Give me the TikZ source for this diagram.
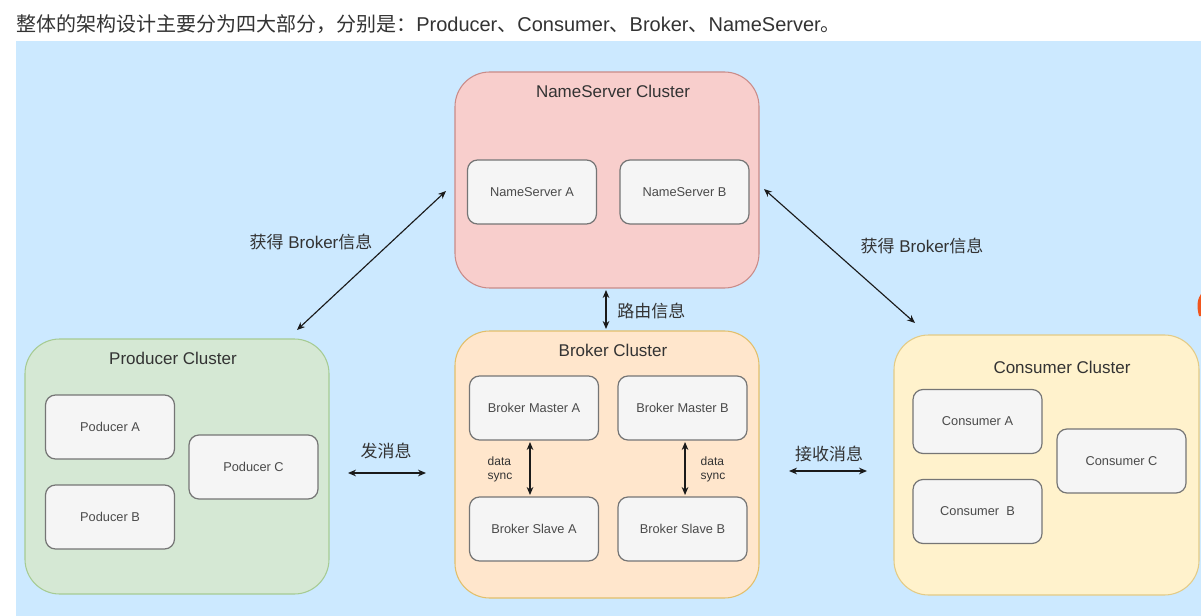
\documentclass[tikz,border=0pt]{standalone}
\usepackage{fontspec}
\setmainfont{Liberation Sans}
\newfontfamily\cjk{Noto Sans CJK SC}
\usetikzlibrary{arrows.meta}
\definecolor{bgblue}{RGB}{204,233,255}
\definecolor{nsfill}{HTML}{F8CECC}
\definecolor{nsline}{HTML}{C98B88}
\definecolor{brfill}{HTML}{FFE6CC}
\definecolor{brline}{HTML}{E2BF6A}
\definecolor{prfill}{HTML}{D5E8D4}
\definecolor{prline}{HTML}{A6CB93}
\definecolor{cofill}{HTML}{FFF2CC}
\definecolor{coline}{HTML}{E3CB86}
\definecolor{boxfill}{HTML}{F5F5F5}
\definecolor{boxline}{HTML}{757575}
\definecolor{boxtext}{HTML}{4A4A4A}
\definecolor{titletext}{HTML}{333333}
\definecolor{arrowc}{HTML}{1A1A1A}
\definecolor{fragorange}{HTML}{F0561E}
\tikzset{
  cluster/.style={rounded corners=26pt, line width=0.8pt, inner sep=0pt, outer sep=0pt},
  box/.style={draw=boxline, fill=boxfill, rounded corners=7.5pt, line width=0.9pt,
    minimum width=96.75pt, minimum height=48pt, inner sep=0pt, outer sep=0pt,
    font=\fontsize{9.6}{11}\selectfont, text=boxtext},
  ctitle/.style={font=\fontsize{12.75}{15}\selectfont, text=titletext, inner sep=0pt},
  lbl/.style={font=\fontsize{12.75}{15}\selectfont, text=titletext, inner sep=0pt},
  small/.style={font=\fontsize{9}{10.5}\selectfont, text=titletext, inner sep=0pt, align=left},
  arr/.style={draw=arrowc, line width=0.85pt, {Stealth[length=6pt,width=5pt]}-{Stealth[length=6pt,width=5pt]}}
}
\begin{document}
\begin{tikzpicture}[x=0.75pt,y=-0.75pt]
\useasboundingbox (0,0) rectangle (1201,616);
\fill[white] (0,0) rectangle (1201,616);
\fill[bgblue] (16,41) rectangle (1201,616);
\node[anchor=west, inner sep=0pt, text=titletext, font=\fontsize{15}{18}\selectfont] (head) at (16,24)
  {{\cjk 整体的架构设计主要分为四大部分，分别是：}Producer{\cjk 、}Consumer{\cjk 、}Broker{\cjk 、}NameServer{\cjk 。}};

% NameServer cluster
\node[cluster, draw=nsline, fill=nsfill, minimum width=228pt, minimum height=162pt] (ns) at (607,180) {};
\node[ctitle] (nsT) at (613,91) {NameServer Cluster};
\node[box] (nsa) at (532,192) {NameServer A};
\node[box] (nsb) at (684.5,192) {NameServer B};

% Broker cluster
\node[cluster, draw=brline, fill=brfill, minimum width=228pt, minimum height=200.25pt] (br) at (607,464.5) {};
\node[ctitle] (brT) at (613,350) {Broker Cluster};
\node[box] (bma) at (534,408) {Broker Master A};
\node[box] (bmb) at (682.5,408) {Broker Master B};
\node[box] (bsa) at (534,529) {Broker Slave A};
\node[box] (bsb) at (682.5,529) {Broker Slave B};
\draw[arr, shorten <=1.5pt, shorten >=1.5pt] ([xshift=-3pt]bma.south) -- ([xshift=-3pt]bsa.north);
\draw[arr, shorten <=1.5pt, shorten >=1.5pt] ([xshift=1.9pt]bmb.south) -- ([xshift=1.9pt]bsb.north);
\node[small] (dsa) at (500,469) {data\\sync};
\node[small] (dsb) at (713,469) {data\\sync};

% Producer cluster
\node[cluster, draw=prline, fill=prfill, minimum width=228pt, minimum height=191.25pt] (pr) at (177,466.5) {};
\node[ctitle] (prT) at (173,358) {Producer Cluster};
\node[box] (pa) at (110,427) {Poducer A};
\node[box] (pb) at (110,517) {Poducer B};
\node[box] (pc) at (253.5,467) {Poducer C};

% Consumer cluster
\node[cluster, draw=coline, fill=cofill, minimum width=228.75pt, minimum height=195pt] (co) at (1046.5,465) {};
\node[ctitle] (coT) at (1062,367) {Consumer Cluster};
\node[box] (ca) at (977.5,421.5) {Consumer A};
\node[box] (cb) at (977.5,511.5) {Consumer\ \ B};
\node[box] (cc) at (1121.5,461) {Consumer C};

% connectors
\draw[arr, shorten <=1.5pt, shorten >=1.5pt] ([xshift=-0.75pt]ns.south) -- ([xshift=-0.75pt]br.north);
\node[lbl, anchor=west] (routeL) at (617,311) {\cjk 路由信息};

\coordinate (sendL) at (348,473);
\coordinate (sendR) at (426,473);
\draw[arr] (sendL) -- (sendR);
\node[lbl] (sendT) at (386,451) {\cjk 发消息};

\coordinate (recvL) at (789,471);
\coordinate (recvR) at (867,471);
\draw[arr] (recvL) -- (recvR);
\node[lbl] (recvT) at (829,454) {\cjk 接收消息};

\coordinate (lpA) at (297,330);
\coordinate (lpB) at (446,191);
\draw[arr] (lpA) -- (lpB);
\node[lbl] (lpT) at (311,242) {{\cjk 获得} Broker{\cjk 信息}};

\coordinate (rpA) at (764,189);
\coordinate (rpB) at (915,323);
\draw[arr] (rpA) -- (rpB);
\node[lbl] (rpT) at (922,246) {{\cjk 获得} Broker{\cjk 信息}};

% cropped orange fragment at the right edge
\fill[fragorange] (1201,294) .. controls (1198,298) and (1196,305) .. (1199,316) -- (1201,316) -- cycle;
\end{tikzpicture}
\end{document}
